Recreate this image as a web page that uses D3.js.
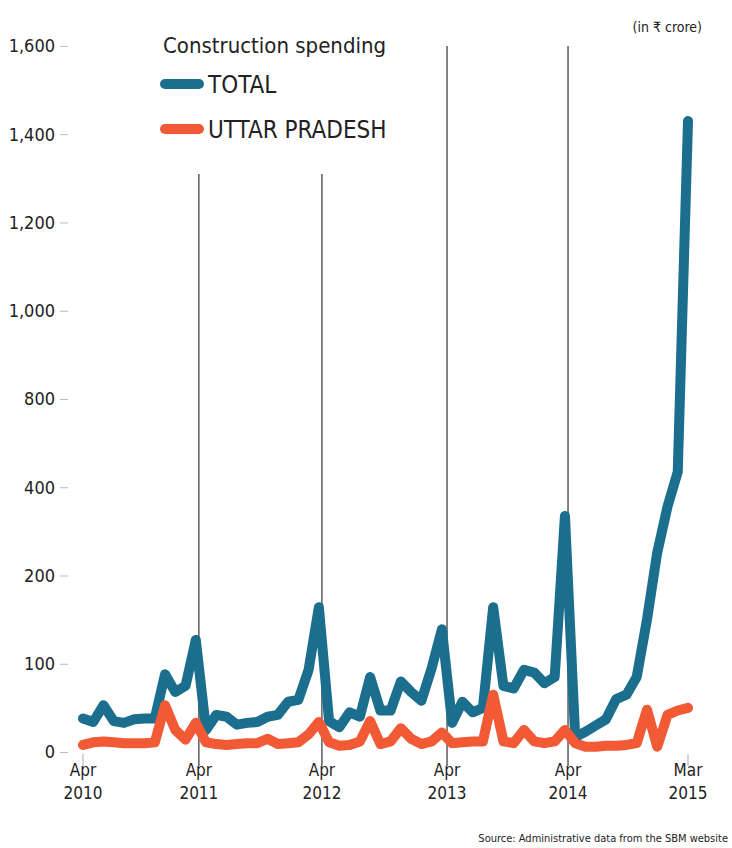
<!DOCTYPE html>
<html>
<head>
<meta charset="utf-8">
<script src="https://cdn.jsdelivr.net/npm/d3@7/dist/d3.min.js"></script>
<style>
  html, body { margin: 0; padding: 0; background: #fff; }
  svg { display: block; }
  text { font-family: "DejaVu Sans Condensed", "Liberation Sans Narrow", "Roboto", sans-serif; fill: #222; }
</style>
</head>
<body>
<svg id="chart" width="732" height="848"></svg>
<script>
// Monthly construction spending, Apr 2010 – Mar 2015 (₹ crore)
const months = d3.range(60); // 0 = Apr 2010 … 59 = Mar 2015

const totalSpending = [
  38, 34, 53, 35, 33, 37, 38, 38, 88, 68,
  75, 127, 25, 42, 40, 31, 33, 34, 40, 42,
  57, 59, 93, 164, 35, 28, 45, 40, 85, 47,
  47, 80, 68, 58, 95, 139, 33, 57, 45, 50,
  164, 75, 72, 93, 90, 78, 85, 335, 17, 23,
  30, 37, 60, 65, 85, 150, 252, 356, 470, 1430
];

const upSpending = [
  8, 11, 12, 11, 10, 10, 10, 11, 53, 25,
  14, 33, 11, 9, 8, 9, 10, 10, 15, 9,
  10, 11, 20, 34, 11, 7, 8, 12, 35, 9,
  12, 27, 15, 9, 12, 22, 10, 11, 12, 12,
  65, 12, 10, 25, 12, 10, 12, 25, 10, 6,
  6, 7, 7, 8, 10, 48, 6, 42, 47, 50
];

// y axis uses equally spaced, non-uniform ticks
const yTicks = [0, 100, 200, 400, 800, 1000, 1200, 1400, 1600];

// x ticks: month index of each fiscal-year marker and its label
const xTickIdx = [0, 11.3, 23.3, 35.5, 47.3, 59];
const xTickLabels = [["Apr", "2010"], ["Apr", "2011"], ["Apr", "2012"], ["Apr", "2013"], ["Apr", "2014"], ["Mar", "2015"]];
// how far up each fiscal-year marker line reaches (value on y axis)
const markerTop = [null, 1310, 1310, 1600, 1600, null];

const seriesNames = ["TOTAL", "UTTAR PRADESH"];
const colors = ["#1b6e8d", "#f15a35"];

const svg = d3.select("#chart");
const plotTop = 46, plotBottom = 752, plotLeft = 83, plotRight = 688;

const y = d3.scaleLinear()
  .domain(yTicks)
  .range(yTicks.map((d, i) => plotBottom - i * (plotBottom - plotTop) / (yTicks.length - 1)));

const x = d3.scaleLinear().domain([0, 59]).range([plotLeft, plotRight]);

// y axis labels and short tick dashes
const yAxis = svg.append("g").attr("transform", "translate(68,0)")
  .call(d3.axisLeft(y).tickValues(yTicks).tickSize(8).tickPadding(5)
    .tickFormat(d => d3.format(",")(d)));
yAxis.select(".domain").remove();
yAxis.selectAll(".tick line").attr("stroke", "#bbb");
yAxis.selectAll(".tick text")
  .style("font-size", "18px").attr("fill", "#222");

// fiscal-year marker lines and x labels
const xg = svg.append("g");
xTickIdx.forEach((m, i) => {
  xg.append("line")
    .attr("x1", x(m)).attr("x2", x(m))
    .attr("y1", markerTop[i] == null ? y(0) + 2 : y(markerTop[i]))
    .attr("y2", y(0) + 14)
    .attr("stroke", markerTop[i] == null ? "#bbb" : "#333")
    .attr("stroke-width", 1.2);
  const t = xg.append("text")
    .attr("x", x(m)).attr("text-anchor", "middle")
    .style("font-size", "17px");
  t.append("tspan").attr("x", x(m)).attr("y", 776).text(xTickLabels[i][0]);
  t.append("tspan").attr("x", x(m)).attr("y", 799).text(xTickLabels[i][1]);
});

// series lines
const line = d3.line().x((d, i) => x(months[i])).y(d => y(d));
[totalSpending, upSpending].forEach((vals, k) => {
  svg.append("path")
    .datum(vals)
    .attr("d", line)
    .attr("fill", "none")
    .attr("stroke", colors[k])
    .attr("stroke-width", 10)
    .attr("stroke-linejoin", "round")
    .attr("stroke-linecap", "round");
});

// legend
const legend = svg.append("g");
legend.append("text").attr("x", 163).attr("y", 53)
  .style("font-size", "22px").text("Construction spending");
seriesNames.forEach((name, k) => {
  const ly = 84 + k * 45;
  legend.append("line")
    .attr("x1", 165).attr("x2", 199).attr("y1", ly).attr("y2", ly)
    .attr("stroke", colors[k]).attr("stroke-width", 10).attr("stroke-linecap", "round");
  legend.append("text").attr("x", 208).attr("y", ly + 9)
    .style("font-size", "24px").text(name);
});

// unit note
svg.append("text").attr("x", 702).attr("y", 32).attr("text-anchor", "end")
  .style("font-size", "14px").text("(in ₹ crore)");

// source
svg.append("text").attr("x", 728).attr("y", 842).attr("text-anchor", "end")
  .style("font-size", "11px").attr("fill", "#444")
  .text("Source: Administrative data from the SBM website");
</script>
</body>
</html>
